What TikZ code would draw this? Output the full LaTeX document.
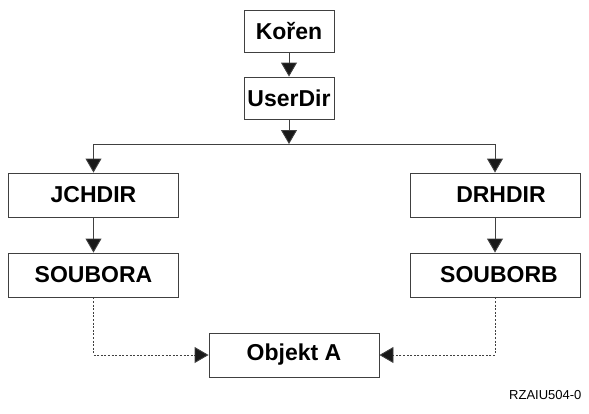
\documentclass[tikz,border=0pt]{standalone}
\usepackage{fontspec}
\setmainfont{Liberation Sans}
\usetikzlibrary{arrows.meta}

\begin{document}
\begin{tikzpicture}[x=1pt,y=-1pt,
  dirbox/.style={draw=black!75, line width=0.9pt, minimum width=170pt,
    minimum height=44pt, inner sep=0pt, font=\fontsize{23}{26}\selectfont\bfseries},
  topbox/.style={dirbox, minimum width=90pt, minimum height=42pt},
  link/.style={draw=black!75, line width=0.9pt, -{Triangle[width=16pt,length=14pt,fill=black!90]}},
  alias/.style={link, dash pattern=on 2pt off 1.6pt}]
\useasboundingbox (0,0) rectangle (589,413);
% top of the tree
\node[topbox] (koren) at (289,31) {Kořen};
\node[topbox] (userdir) at (289,98) {UserDir};
\coordinate (split) at (289,144);
% user directories
\node[dirbox] (jchdir) at (93.5,195) {JCHDIR};
\node[dirbox] (drhdir) at (495,195) {\hspace*{12pt}DRHDIR};
\node[dirbox] (soubora) at (93.5,275) {SOUBORA};
\node[dirbox] (souborb) at (495,275) {\hspace*{8pt}SOUBORB};
% shared object
\node[dirbox] (objekt) at (294,355) {Objekt A};
\node[anchor=base east, font=\fontsize{13}{15}\selectfont] (figid) at (585,399) {RZAIU504-0};
\draw[link] (koren) -- (userdir);
\draw[link] (userdir) -- (split);
\draw[link] (split) -| (jchdir);
\draw[link] (split) -| (drhdir);
\draw[link] (jchdir) -- (soubora);
\draw[link] (drhdir) -- (souborb);
\draw[alias] (soubora.south) |- (objekt.west);
\draw[alias] (souborb.south) |- (objekt.east);
\end{tikzpicture}
\end{document}
